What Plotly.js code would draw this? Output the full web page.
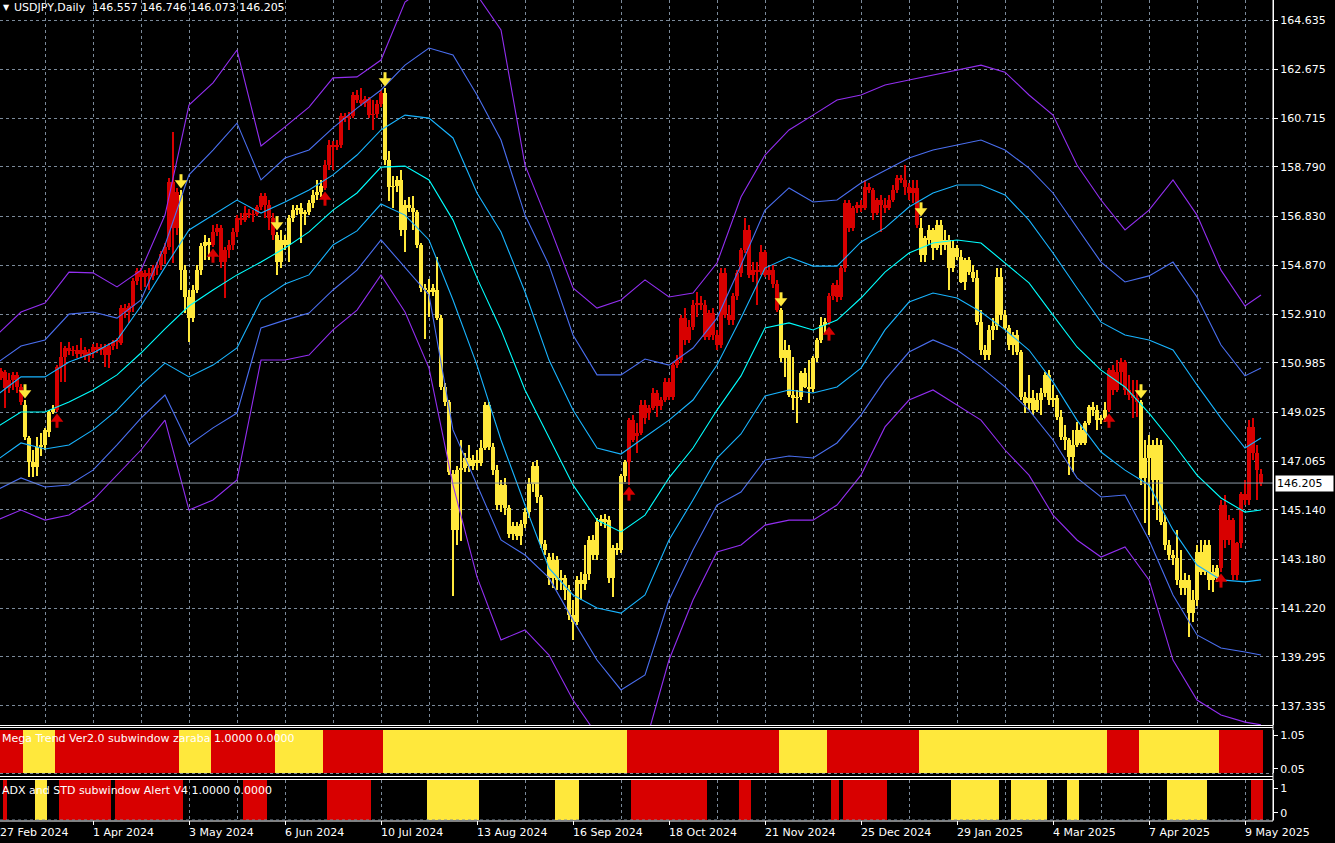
<!DOCTYPE html>
<html><head><meta charset="utf-8">
<script src="https://cdn.plot.ly/plotly-3.0.1.min.js"></script>
<style>html,body{margin:0;padding:0;background:#000;}#chart{width:1335px;height:843px;}</style>
</head><body><div id="chart"></div>
<script>
// ---------------- DATA (USDJPY Daily, bar index 0 = 27 Feb 2024) ----------------
const openP = [150.62,150.39,150.62,149.99,150.31,150.51,150.03,149.31,148.00,147.04,
146.84,147.64,147.72,148.24,149.03,149.11,150.82,151.22,151.58,151.46,
151.50,151.34,151.50,151.26,151.42,151.62,151.50,151.62,151.30,151.66,
151.82,151.78,153.17,153.01,153.25,154.25,154.64,154.41,154.56,154.45,
154.76,154.88,155.32,155.60,158.19,156.36,157.67,154.68,153.61,152.77,
153.89,154.68,155.64,155.80,155.68,156.20,156.36,155.00,155.48,155.68,
156.20,156.75,156.67,156.95,156.87,156.91,157.19,157.63,157.27,156.75,
156.08,155.00,155.88,155.68,156.75,157.07,157.15,156.91,156.99,157.35,
157.67,157.79,157.95,158.86,159.66,159.58,159.66,160.81,160.73,160.81,
161.65,161.45,161.33,161.49,160.85,160.89,161.29,161.73,159.06,157.99,
158.03,158.27,156.28,157.27,157.15,156.99,155.68,153.97,153.89,153.81,
153.89,152.77,150.03,149.43,146.56,144.34,146.72,146.80,147.20,146.88,
147.12,147.00,147.60,149.31,147.64,146.72,145.33,146.13,145.21,144.18,
144.49,144.10,144.57,145.05,146.17,146.88,145.65,143.78,143.26,142.43,
143.14,142.35,142.43,141.95,140.95,140.67,142.35,142.19,142.59,143.94,
143.34,144.65,144.77,144.73,142.43,143.62,143.54,146.48,147.04,148.71,
148.08,148.20,149.31,148.99,149.19,149.79,149.27,149.51,150.23,149.63,
150.90,151.10,152.77,151.90,152.42,153.29,153.37,153.29,152.02,152.97,
152.10,151.70,154.56,152.89,152.69,153.65,154.56,155.48,156.28,154.49,
154.68,154.60,155.40,154.49,154.68,154.13,153.09,151.18,151.50,149.71,
149.59,149.63,150.58,150.03,149.95,151.18,151.90,152.50,152.61,153.65,
154.09,153.61,154.76,157.35,156.36,157.15,157.27,157.15,157.99,157.87,
156.95,157.47,157.27,157.15,157.47,157.87,158.35,158.27,157.99,157.75,
157.95,156.36,155.28,155.88,156.28,155.56,156.48,155.68,155.88,154.76,
155.56,155.20,154.21,155.08,154.60,154.37,152.61,151.50,151.30,152.30,
152.46,154.41,152.89,152.38,151.70,152.10,151.42,149.63,149.39,149.59,
149.11,149.51,149.79,150.51,149.51,149.59,148.83,148.04,147.92,147.24,
147.72,148.32,147.80,148.60,149.23,149.11,148.71,148.79,149.11,150.70,
149.91,150.62,151.02,149.91,149.71,149.59,149.43,146.41,147.20,147.72,
146.33,147.72,144.65,143.74,143.34,143.22,142.35,142.03,142.35,141.03,
141.55,143.46,142.67,143.74,142.35,142.43,142.82,145.33,143.94,144.73,
142.55,143.82,145.77,145.53,148.44,147.40,146.557];
const highP = [150.86,150.78,150.70,150.58,150.62,150.62,150.15,149.51,148.08,147.52,
148.04,148.20,148.40,149.11,149.31,150.90,151.82,151.66,151.82,151.66,
151.70,151.98,151.62,151.54,151.74,151.78,151.74,151.74,151.78,151.90,
151.98,153.29,153.33,153.37,154.37,154.76,154.76,154.68,154.76,154.88,
155.00,155.44,155.76,158.35,160.18,157.95,157.87,154.88,153.89,154.09,
154.88,155.76,156.08,155.96,156.48,156.52,156.48,155.60,155.88,156.36,
156.87,156.95,157.23,157.11,157.07,157.27,157.75,157.75,157.47,156.95,
156.20,156.28,156.08,156.87,157.27,157.27,157.35,157.07,157.47,157.87,
158.27,158.27,159.06,159.86,159.82,159.86,160.93,160.93,160.97,161.77,
161.85,161.93,161.61,161.57,161.45,161.45,161.85,161.93,159.42,158.43,
158.43,158.66,157.47,157.59,157.63,157.07,155.76,154.13,154.33,154.13,
155.20,152.89,150.19,149.51,146.72,146.88,147.92,147.40,147.72,147.32,
147.52,147.92,149.43,149.43,147.80,146.92,146.33,146.41,145.33,144.65,
144.65,144.73,145.21,146.41,147.04,147.12,145.73,143.94,143.42,143.42,
143.30,142.74,142.55,142.15,141.55,142.51,142.67,143.74,144.10,144.14,
144.81,144.93,144.97,144.89,143.74,143.82,146.56,147.12,148.80,148.91,
148.60,149.51,149.51,149.31,149.99,149.91,149.63,150.39,150.39,151.02,
151.30,152.89,153.17,152.69,153.49,153.81,153.65,153.49,153.09,153.17,
152.30,154.76,154.76,153.29,153.77,154.68,155.56,156.75,156.48,155.00,
155.00,155.68,155.48,154.84,154.88,154.29,153.17,151.90,151.70,151.22,
149.91,150.66,150.78,151.10,151.26,151.98,152.81,152.77,153.77,154.17,
154.29,154.84,157.47,157.47,157.23,157.39,157.47,158.27,158.15,157.95,
157.55,157.67,157.55,157.67,158.07,158.47,158.47,158.86,158.15,158.27,
158.27,156.75,156.04,156.48,156.36,156.67,156.67,156.28,156.08,155.88,
155.68,155.48,155.16,155.20,154.88,154.68,153.09,151.70,152.50,152.77,
154.76,154.76,153.09,152.50,152.22,152.30,151.50,149.83,150.51,149.91,
149.79,149.99,150.62,150.70,150.11,149.71,149.11,148.52,148.00,148.32,
148.63,148.52,148.68,149.31,149.43,149.31,148.91,149.43,150.78,150.90,
151.10,151.18,151.10,150.51,150.31,150.31,149.51,147.92,148.12,147.92,
148.00,147.92,144.93,143.94,143.54,144.34,143.54,142.63,142.55,141.95,
143.74,143.94,143.94,143.94,142.94,142.94,145.53,145.73,144.93,144.81,
143.86,145.85,146.33,148.71,148.79,147.72,146.746];
const lowP = [150.31,150.31,149.19,149.79,149.91,149.79,149.31,147.92,146.45,146.45,
146.49,147.28,147.52,148.04,148.95,149.03,150.23,150.23,151.30,151.26,
151.18,151.22,151.10,151.02,151.18,151.38,151.30,150.82,150.78,151.50,
151.54,151.70,152.77,152.58,153.01,154.09,153.89,154.01,153.89,154.29,
154.49,154.68,154.92,155.48,154.96,156.08,153.89,152.97,151.82,152.61,
153.77,154.49,155.08,155.08,155.60,156.04,154.76,153.57,155.16,155.48,
156.00,156.48,156.59,156.75,156.59,156.83,157.07,156.75,156.28,155.88,
154.49,154.76,155.48,155.00,156.59,156.87,155.76,156.48,156.87,157.15,
157.47,157.59,157.87,158.66,158.66,159.46,159.54,160.57,160.26,160.73,
161.33,161.21,161.17,160.73,160.26,160.73,161.17,158.86,157.43,157.15,
157.79,156.04,155.40,156.99,156.28,155.56,153.81,151.94,152.81,153.65,
152.69,149.91,149.27,146.52,141.71,143.74,143.90,146.64,146.64,146.72,
146.72,146.88,147.52,147.52,146.52,145.13,145.05,144.93,144.02,143.94,
143.94,143.74,144.41,144.81,145.85,145.41,143.62,143.34,142.15,142.03,
141.95,141.95,141.55,140.75,139.96,140.56,141.55,141.95,142.35,143.14,
143.14,144.49,144.41,142.23,141.67,143.34,143.42,146.25,146.13,147.84,
147.40,148.12,148.56,148.71,149.11,148.83,149.11,149.43,149.51,149.51,
150.78,150.98,151.70,151.78,152.30,152.81,153.09,151.90,151.90,151.90,
151.50,151.58,152.77,152.50,152.50,153.49,154.41,155.36,154.37,154.21,
153.29,154.49,154.41,154.29,153.97,153.01,151.02,150.43,149.63,149.11,
148.60,149.51,149.99,149.39,149.83,151.02,151.78,152.18,152.50,153.49,
153.41,153.49,154.60,156.20,156.24,156.95,156.99,157.07,157.75,156.67,
156.87,156.20,156.95,157.07,157.39,157.75,158.15,157.67,157.47,157.35,
156.36,155.00,155.00,155.68,155.08,155.48,155.28,155.48,153.89,154.60,
155.08,154.17,153.89,154.49,154.21,152.50,151.30,151.10,151.10,151.90,
152.30,152.69,152.30,151.50,151.30,151.30,149.51,148.99,149.11,148.91,
149.03,148.91,149.63,149.31,149.23,148.71,147.92,147.52,146.52,146.64,
147.64,147.72,147.72,148.52,148.87,148.32,148.56,148.63,149.03,149.71,
149.83,150.11,149.71,149.51,148.79,148.83,146.13,144.61,144.14,145.33,
144.73,144.53,143.54,143.14,142.94,142.15,141.75,141.75,140.08,140.67,
141.31,142.55,142.55,141.95,141.87,142.27,142.67,143.62,143.74,142.35,
142.35,143.62,145.33,145.33,147.12,145.53,146.073];
const closeP = [150.54,150.66,149.99,150.31,150.51,150.03,149.43,148.04,147.04,146.84,
147.64,147.72,148.32,149.03,149.15,150.82,151.22,151.58,151.46,151.50,
151.34,151.50,151.26,151.42,151.62,151.50,151.62,151.30,151.66,151.82,
151.90,153.17,153.01,153.25,154.25,154.64,154.41,154.56,154.45,154.76,
154.88,155.32,155.60,158.19,156.36,157.79,154.68,153.61,152.77,153.89,
154.68,155.64,155.80,155.68,156.20,156.36,155.00,155.48,155.68,156.20,
156.75,156.67,156.95,156.87,156.91,157.19,157.63,157.27,156.75,156.08,
155.00,155.88,155.68,156.75,157.07,157.15,156.91,156.99,157.35,157.67,
157.79,158.03,158.86,159.66,159.58,159.66,160.81,160.73,160.81,161.65,
161.45,161.33,161.49,160.85,160.89,161.29,161.73,159.06,157.99,158.03,
158.27,156.28,157.27,157.15,156.99,155.68,153.97,153.89,153.81,153.97,
152.77,150.03,149.43,146.64,144.34,146.72,146.80,147.20,146.88,147.12,
147.00,147.60,149.31,147.64,146.72,145.33,146.13,145.21,144.18,144.49,
144.10,144.57,145.05,146.17,146.88,145.65,143.78,143.54,142.43,143.14,
142.35,142.43,141.95,140.95,140.67,142.35,142.19,142.59,143.94,143.34,
144.65,144.77,144.65,142.43,143.62,143.54,146.48,147.04,148.71,147.92,
148.20,149.31,148.80,149.19,149.79,149.27,149.51,150.23,149.63,150.90,
151.10,152.77,151.90,152.42,153.29,153.37,153.29,152.02,152.97,152.10,
151.70,154.56,152.89,152.69,153.65,154.56,155.48,156.28,154.49,154.68,
154.60,155.40,154.49,154.68,154.13,153.09,151.18,151.50,149.71,149.59,
149.63,150.58,150.03,149.95,151.18,151.90,152.50,152.61,153.65,154.09,
153.61,154.76,157.35,156.36,157.15,157.27,157.15,157.99,157.87,156.95,
157.47,157.27,157.15,157.47,157.87,158.35,158.27,157.99,157.75,157.95,
156.48,155.28,155.96,156.28,155.56,156.48,155.68,155.88,154.76,155.56,
155.20,154.21,155.08,154.60,154.37,152.61,151.50,151.30,152.30,152.46,
154.41,152.89,152.38,151.70,152.10,151.42,149.63,149.39,149.59,149.11,
149.51,149.79,150.51,149.51,149.59,148.83,148.04,147.92,147.24,147.72,
148.32,147.80,148.60,149.23,149.11,148.71,148.79,149.11,150.70,149.91,
150.62,151.02,149.91,149.71,149.59,149.43,146.41,147.20,147.72,146.33,
147.72,144.65,143.74,143.34,143.22,142.35,142.03,142.35,141.03,141.55,
143.46,142.67,143.74,142.35,142.67,142.82,145.33,143.94,144.73,142.55,
143.82,145.77,145.53,148.44,147.40,146.72,146.205];

// Mega Trend state: segment start bars and direction (1 = up/red, 0 = down/yellow)
const trendStart = [0,7,15,46,54,70,82,97,158,196,208,231,278,286,306];
const trendDir   = [1,0,1,0,1,0,1,0,1,0,1,0,1,0,1];

// ADX/STD subwindow colored segments [start, end] and colour code (1 red, 2 yellow)
const adxStart = [2,10,16,30,62,83,108,140,159,186,209,212,239,254,268,293,314];
const adxEnd   = [2,12,28,46,67,93,120,145,177,188,210,222,250,262,270,302,316];
const adxCode  = [1,2,1,1,1,1,2,2,1,1,1,1,2,2,2,2,1];

// Signal arrows (bar indices)
const sellArrows = [7,46,70,97,196,231,286];
const buyArrows  = [15,54,82,158,208,278,306];

// Band lines sampled at bar indices
const bandIdx = [0,6,12,18,24,30,36,42,48,54,60,66,72,78,84,90,96,102,108,114,120,126,132,138,144,150,156,162,168,174,180,186,192,198,204,210,216,222,228,234,240,246,252,258,264,270,276,282,288,294,300,306,312,316];
const upper3 = [152.10,153.01,153.37,154.60,154.57,154.01,154.68,156.87,161.25,162.13,163.44,159.62,160.38,161.17,162.33,162.37,163.04,165.35,166.03,166.23,165.63,164.24,158.86,156.48,153.97,153.17,153.49,154.29,153.61,153.77,154.96,157.59,159.26,160.26,160.85,161.45,161.65,162.05,162.25,162.45,162.64,162.84,162.56,161.65,160.85,158.86,157.47,156.28,157.07,158.27,156.87,154.68,153.25,153.69];
const upper2 = [150.98,151.66,151.90,152.93,153.01,152.77,153.49,155.68,158.47,159.46,160.53,158.27,159.14,159.46,160.34,161.13,161.85,162.84,163.52,163.24,161.65,159.86,156.87,154.88,152.10,150.51,150.51,151.14,150.90,151.58,152.77,154.88,157.07,157.95,157.39,157.47,158.15,158.66,159.14,159.46,159.66,159.86,159.46,158.74,157.75,156.36,155.00,154.21,154.45,155.00,153.61,151.70,150.47,150.78];
const upper1 = [149.71,150.43,150.43,151.02,151.38,151.90,153.25,154.80,156.28,156.87,157.47,156.95,157.39,157.87,158.47,159.26,160.26,160.85,160.73,159.94,157.75,156.20,153.81,151.10,149.11,147.60,147.36,148.04,148.71,149.51,150.90,152.77,154.76,155.20,154.84,154.84,155.80,156.36,157.19,157.75,158.07,158.07,157.67,156.67,155.36,153.97,152.61,152.10,151.90,151.50,150.11,148.79,147.60,148.00];
const middle = [148.44,149.03,149.03,149.43,149.91,150.51,151.38,152.34,153.25,153.89,154.49,155.00,155.56,156.20,157.07,157.75,158.78,158.82,158.27,156.67,154.37,152.30,149.91,148.00,146.13,144.73,144.26,144.93,146.41,147.60,149.11,150.47,152.38,152.58,152.30,152.69,153.57,154.60,155.36,155.76,155.88,155.76,154.96,154.17,152.89,151.62,150.70,150.03,148.99,147.80,146.52,145.61,145.05,145.13];
const lower1 = [147.12,147.80,147.56,147.72,148.32,149.11,150.11,150.98,150.43,150.90,151.58,153.49,154.13,154.49,155.68,156.24,157.31,156.87,155.88,153.49,150.90,147.92,145.33,142.82,141.75,141.23,141.03,141.75,143.94,145.53,147.20,148.16,149.67,149.91,149.79,150.03,150.78,152.30,153.41,153.77,153.57,153.01,152.30,151.50,150.23,148.71,147.44,146.72,146.13,144.34,142.94,142.35,142.27,142.35];
const lower2 = [145.93,146.41,146.05,146.13,146.72,147.72,148.79,149.71,147.72,148.40,148.99,152.38,152.69,152.97,153.89,154.68,155.88,154.80,153.69,148.32,146.13,143.94,143.34,142.43,140.75,139.16,137.97,138.57,141.55,143.54,145.33,145.85,147.12,147.28,147.20,147.80,148.91,150.31,151.42,151.90,151.50,150.82,150.03,149.11,147.92,146.41,145.65,145.73,143.94,141.75,140.16,139.64,139.48,139.36];
const lower3 = [144.73,145.13,144.73,144.93,145.53,146.52,147.52,148.71,145.13,145.53,146.33,151.10,151.10,151.30,152.30,153.09,154.49,153.01,150.78,146.13,142.47,139.96,140.36,139.36,137.57,136.18,135.58,135.78,139.16,141.55,143.46,143.74,144.53,144.73,144.73,145.33,146.52,148.44,149.51,149.91,149.31,148.71,147.52,146.52,144.93,143.94,143.26,143.66,142.35,139.16,137.57,136.97,136.69,136.58];

// Axis labels
const priceTicks = [164.635,162.675,160.715,158.790,156.830,154.870,152.910,150.985,149.025,147.065,145.140,143.180,141.220,139.295,137.335];
const dateLabels = ['27 Feb 2024','1 Apr 2024','3 May 2024','6 Jun 2024','10 Jul 2024','13 Aug 2024','16 Sep 2024','18 Oct 2024','21 Nov 2024','25 Dec 2024','29 Jan 2025','4 Mar 2025','7 Apr 2025','9 May 2025'];
const dateLabelIdx = [0,24,48,72,96,120,144,168,192,216,240,264,288,312];
const header = {symbol:'USDJPY,Daily', o:146.557, h:146.746, l:146.073, c:146.205};
const sub1Title = 'Mega Trend Ver2.0 subwindow zaraba 1.0000 0.0000';
const sub2Title = 'ADX and STD subwindow Alert V4 1.0000 0.0000';
const sub1Labels = ['1.05','0.05'];
const sub2Labels = ['1','0'];

// ---------------- BUILD ----------------
const RED = '#D80000', YEL = '#FFE83C';
const N = closeP.length;
const PLOT_W = 1273, PLOT_H = 820;
const px = v => v / PLOT_W;           // pixel -> paper x
const py = v => 1 - v / PLOT_H;       // pixel -> paper y
const FONT = 'DejaVu Sans, Verdana, sans-serif';

const trend = new Array(N);
for (let s = 0; s < trendStart.length; s++) {
  const e = s + 1 < trendStart.length ? trendStart[s + 1] : N;
  for (let i = trendStart[s]; i < e; i++) trend[i] = trendDir[s];
}
function candleTraces(dir, color) {
  const xs = [], wb = [], wh = [], bb = [], bh = [];
  for (let i = 0; i < N; i++) {
    if (trend[i] !== dir) continue;
    xs.push(i);
    wb.push(lowP[i]); wh.push(highP[i] - lowP[i]);
    const lo = Math.min(openP[i], closeP[i]);
    bb.push(lo); bh.push(Math.max(Math.abs(closeP[i] - openP[i]), 0.045));
  }
  return [
    {type:'bar', x:xs, y:wh, base:wb, width:0.26, marker:{color:color, line:{width:0}}, xaxis:'x', yaxis:'y', hoverinfo:'skip', showlegend:false},
    {type:'bar', x:xs, y:bh, base:bb, width:0.78, marker:{color:color, line:{width:0}}, xaxis:'x', yaxis:'y', hoverinfo:'skip', showlegend:false}
  ];
}
const traces = [];
const bandDefs = [
  [upper3,'#922EF0'],[lower3,'#922EF0'],
  [upper2,'#4A6FF0'],[lower2,'#4A6FF0'],
  [upper1,'#18B4FF'],[lower1,'#18B4FF'],
  [middle,'#00FFFF']
];
bandDefs.forEach(([arr,col]) => traces.push({type:'scatter', mode:'lines', x:bandIdx, y:arr, line:{color:col, width:1.1}, xaxis:'x', yaxis:'y', hoverinfo:'skip', showlegend:false}));
traces.push(...candleTraces(1, RED), ...candleTraces(0, YEL));

// arrows
const sx = sellArrows, bx = buyArrows;
traces.push({type:'scatter', mode:'markers', x:sx, y:sx.map(i => highP[i] + 0.46), marker:{symbol:'line-ns', size:6, line:{color:YEL, width:3}}, xaxis:'x', yaxis:'y', hoverinfo:'skip', showlegend:false});
traces.push({type:'scatter', mode:'markers', x:sx, y:sx.map(i => highP[i] + 0.28), marker:{symbol:'triangle-down', size:11, color:YEL, line:{width:0}}, xaxis:'x', yaxis:'y', hoverinfo:'skip', showlegend:false});
traces.push({type:'scatter', mode:'markers', x:bx, y:bx.map(i => lowP[i] - 0.46), marker:{symbol:'line-ns', size:6, line:{color:RED, width:3}}, xaxis:'x', yaxis:'y', hoverinfo:'skip', showlegend:false});
traces.push({type:'scatter', mode:'markers', x:bx, y:bx.map(i => lowP[i] - 0.28), marker:{symbol:'triangle-up', size:11, color:RED, line:{width:0}}, xaxis:'x', yaxis:'y', hoverinfo:'skip', showlegend:false});

// subwindow 1
const allIdx = Array.from({length:N}, (_, i) => i);
traces.push({type:'bar', x:allIdx, y:allIdx.map(() => 1), base:0, width:1.02, marker:{color:allIdx.map(i => trend[i] ? RED : YEL), line:{width:0}}, xaxis:'x2', yaxis:'y2', hoverinfo:'skip', showlegend:false});
// subwindow 2
const ax = [], ac = [];
for (let s = 0; s < adxStart.length; s++) for (let i = adxStart[s]; i <= adxEnd[s]; i++) { ax.push(i); ac.push(adxCode[s] === 1 ? RED : YEL); }
traces.push({type:'bar', x:ax, y:ax.map(() => 1), base:0, width:1.02, marker:{color:ac, line:{width:0}}, xaxis:'x3', yaxis:'y3', hoverinfo:'skip', showlegend:false});

const GRID = '#7B8A9A';
const xBase = {range:[0.75, 319], tickmode:'linear', tick0:0, dtick:12, showticklabels:false, ticks:'', showgrid:true, gridcolor:GRID, griddash:'3px,3px', gridwidth:1, zeroline:false, showline:false, fixedrange:true};
const layout = {
  width:1335, height:843, paper_bgcolor:'#000', plot_bgcolor:'#000',
  margin:{l:0, r:62, t:0, b:23}, barmode:'overlay', bargap:0, hovermode:false, showlegend:false,
  font:{family:FONT, color:'#fff', size:11},
  xaxis: Object.assign({}, xBase, {anchor:'y', domain:[0,1]}),
  xaxis2: Object.assign({}, xBase, {anchor:'y2', domain:[0,1], matches:'x'}),
  xaxis3: Object.assign({}, xBase, {anchor:'y3', domain:[0,1], matches:'x'}),
  yaxis: {domain:[py(725), 1], range:[136.575, 165.431], side:'right', tickmode:'array', tickvals:priceTicks, ticktext:priceTicks.map(v => v.toFixed(3)),
    ticks:'outside', ticklen:4, tickcolor:'#fff', tickfont:{family:FONT, size:11, color:'#fff'}, showgrid:true, gridcolor:GRID, griddash:'3px,3px',
    showline:true, linecolor:'#fff', linewidth:1, zeroline:false, fixedrange:true},
  yaxis2: {domain:[py(773), py(730)], range:[0,1], side:'right', tickmode:'array', tickvals:[0.88,0.1], ticktext:sub1Labels,
    ticks:'outside', ticklen:4, tickcolor:'#fff', tickfont:{family:FONT, size:11, color:'#fff'}, showgrid:false, showline:true, linecolor:'#fff', zeroline:false, fixedrange:true},
  yaxis3: {domain:[py(820), py(780)], range:[0,1], side:'right', tickmode:'array', tickvals:[0.8,0.18], ticktext:sub2Labels,
    ticks:'outside', ticklen:4, tickcolor:'#fff', tickfont:{family:FONT, size:11, color:'#fff'}, showgrid:false, showline:true, linecolor:'#fff', zeroline:false, fixedrange:true},
  shapes: [], annotations: []
};
const lastClose = closeP[N - 1];
layout.shapes.push({type:'line', xref:'paper', yref:'y', x0:0, x1:1, y0:lastClose, y1:lastClose, line:{color:'#8C99A6', width:1}});
[725.5, 727.5, 776.5, 779.5, 821].forEach(v => layout.shapes.push({type:'line', xref:'paper', yref:'paper', x0:0, x1:1, y0:py(v), y1:py(v), line:{color:'#fff', width:1}}));
[773.5, 820].forEach(v => layout.shapes.push({type:'line', xref:'paper', yref:'paper', x0:0, x1:1, y0:py(v), y1:py(v), line:{color:GRID, width:1, dash:'3px,3px'}}));
layout.shapes.push({type:'line', xref:'paper', yref:'paper', x0:1, x1:1, y0:py(821), y1:1, line:{color:'#fff', width:1}});
dateLabelIdx.forEach(i => layout.shapes.push({type:'line', xref:'paper', yref:'paper', x0:px(-3 + 4*i + 0.5), x1:px(-3 + 4*i + 0.5), y0:py(821), y1:py(825), line:{color:'#fff', width:1}}));

// texts
dateLabels.forEach((t, k) => layout.annotations.push({xref:'paper', yref:'paper', x:px(Math.max(-3 + 4*dateLabelIdx[k] - 2, -2)), y:py(832), xanchor:'left', yanchor:'middle', text:t, showarrow:false, font:{family:FONT, size:11, color:'#fff'}}));
layout.annotations.push({xref:'paper', yref:'paper', x:px(1), y:py(7), xanchor:'left', yanchor:'middle', text:'▼', showarrow:false, font:{family:FONT, size:8, color:'#fff'}});
layout.annotations.push({xref:'paper', yref:'paper', x:px(12), y:py(7), xanchor:'left', yanchor:'middle',
  text: header.symbol + '  ' + [header.o, header.h, header.l, header.c].map(v => v.toFixed(3)).join(' '), showarrow:false, font:{family:FONT, size:11, color:'#fff'}});
layout.annotations.push({xref:'paper', yref:'paper', x:px(0), y:py(738), xanchor:'left', yanchor:'middle', text:sub1Title, showarrow:false, font:{family:FONT, size:11, color:'#fff'}});
layout.annotations.push({xref:'paper', yref:'paper', x:px(0), y:py(790), xanchor:'left', yanchor:'middle', text:sub2Title, showarrow:false, font:{family:FONT, size:11, color:'#fff'}});
layout.annotations.push({xref:'paper', yref:'y', x:px(1275), y:lastClose, xanchor:'left', yanchor:'middle', text:lastClose.toFixed(3), showarrow:false,
  bgcolor:'#fff', font:{family:FONT, size:11, color:'#000'}, width:55, align:'left', borderpad:1});

Plotly.newPlot('chart', traces, layout, {displayModeBar:false, staticPlot:true});
</script></body></html>
